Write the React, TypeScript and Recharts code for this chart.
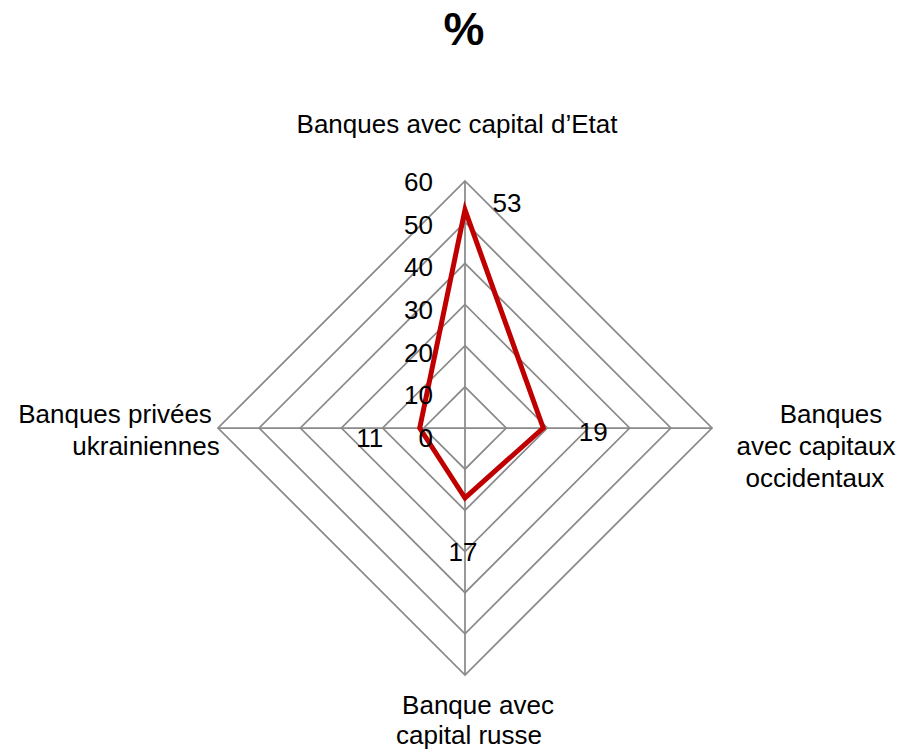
import { RadarChart, Radar, PolarGrid, PolarAngleAxis, PolarRadiusAxis } from 'recharts'

const categories = [
  'Banques avec capital d’Etat',
  'Banques|avec capitaux|occidentaux',
  'Banque avec|capital russe',
  'Banques privées|ukrainiennes',
]
const shares = [53, 19, 17, 11]
const radiusTicks = [0, 10, 20, 30, 40, 50, 60]

const data = categories.map((name, i) => ({ name, value: shares[i] }))

const CX = 465
const CY = 428
const R = 247
const FONT = '"Liberation Sans", Arial, sans-serif'

// per-line offsets from the angle-axis tick point
const catOffsets = [
  [[-8, -40]],
  [[111, -5], [96, 27], [95, 59]],
  [[13, 31], [4, 61]],
  [[-95, -5], [-64, 27]],
]
// offsets of the value labels from each vertex
const valueOffsets = [[42, 2], [50, 13], [-2, 63], [-50, 19]]

function CategoryTick(props: any) {
  const { x, y, payload } = props
  const idx = payload?.index ?? props.index ?? 0
  const lines = String(payload.value).split('|')
  const offs = catOffsets[idx] || []
  return (
    <g>
      {lines.map((line, i) => (
        <text
          key={i}
          x={x + (offs[i]?.[0] ?? 0)}
          y={y + (offs[i]?.[1] ?? 0)}
          textAnchor="middle"
          fontSize={26}
          fill="#000"
          fontFamily={FONT}
        >
          {line}
        </text>
      ))}
    </g>
  )
}

function RadiusTick(props: any) {
  const { y, payload } = props
  const frac = (CY - y) / R
  return (
    <text x={CX - 32} y={y + 19 - 9 * frac} textAnchor="end" fontSize={26} fill="#000" fontFamily={FONT}>
      {payload.value}
    </text>
  )
}

function ValueLabel(props: any) {
  const { cx, cy, index } = props
  const v = props.payload?.value ?? props.value
  const off = valueOffsets[index] || [0, 0]
  return (
    <text key={`v${index}`} x={cx + off[0]} y={cy + off[1]} textAnchor="middle" fontSize={26} fill="#000" fontFamily={FONT}>
      {v}
    </text>
  )
}

export default function App() {
  return (
    <div style={{ position: 'absolute', left: 0, top: 0, width: 908, height: 749, background: '#fff' }}>
      <div
        style={{
          position: 'absolute',
          left: 0,
          top: 6,
          width: 928,
          textAlign: 'center',
          fontFamily: FONT,
          fontWeight: 'bold',
          fontSize: 46,
          lineHeight: '46px',
        }}
      >
        %
      </div>
      <RadarChart width={908} height={749} cx={CX} cy={CY} outerRadius={R} data={data}>
        <PolarGrid gridType="polygon" stroke="#8a8a8a" strokeWidth={1.75} />
        <PolarAngleAxis dataKey="name" tickLine={false} axisLine={false} tick={<CategoryTick />} />
        <PolarRadiusAxis
          angle={90}
          domain={[0, 60]}
          ticks={radiusTicks as any}
          tickCount={7}
          axisLine={false}
          tickLine={false}
          tick={<RadiusTick />}
        />
        <Radar
          dataKey="value"
          stroke="#C00000"
          strokeWidth={5}
          fill="none"
          fillOpacity={0}
          dot={<ValueLabel />}
          isAnimationActive={false}
        />
      </RadarChart>
    </div>
  )
}
